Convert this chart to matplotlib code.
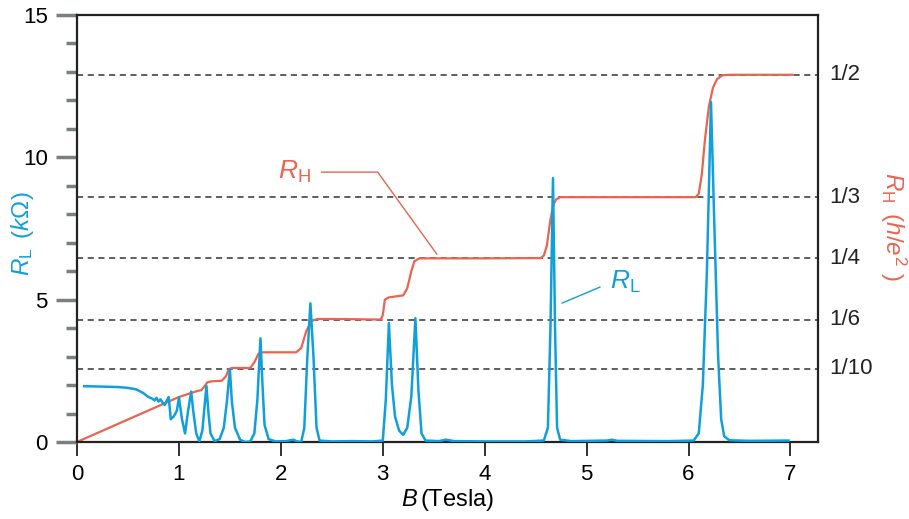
import numpy as np
import matplotlib
matplotlib.use('Agg')
import matplotlib.pyplot as plt

plt.rcParams['font.family'] = ['Liberation Sans', 'DejaVu Sans']
plt.rcParams['mathtext.fontset'] = 'custom'
plt.rcParams['mathtext.rm'] = 'Liberation Sans'
plt.rcParams['mathtext.it'] = 'Liberation Sans:italic'

# longitudinal resistance R_L (kOhm)
B_L = [0.07, 0.2, 0.4, 0.5, 0.58, 0.65, 0.7, 0.74, 0.76, 0.78, 0.8, 0.82, 0.84, 0.86, 0.88,
       0.9, 0.92, 0.95, 0.98, 1.0, 1.03, 1.06, 1.09, 1.12, 1.14, 1.17, 1.2, 1.23, 1.25, 1.27,
       1.29, 1.31, 1.35, 1.4, 1.44, 1.47, 1.5, 1.52, 1.55, 1.6, 1.65, 1.7, 1.74, 1.77, 1.8,
       1.82, 1.84, 1.88, 1.95, 2.05, 2.12, 2.16, 2.2, 2.23, 2.26, 2.29, 2.32, 2.35, 2.38, 2.5,
       2.7, 2.9, 3.0, 3.03, 3.06, 3.09, 3.12, 3.16, 3.2, 3.24, 3.28, 3.32, 3.35, 3.38, 3.42,
       3.55, 3.62, 3.7, 4.0, 4.4, 4.58, 4.62, 4.645, 4.67, 4.69, 4.71, 4.74, 4.85, 5.2, 5.25,
       5.3, 5.8, 6.05, 6.1, 6.14, 6.18, 6.22, 6.25, 6.29, 6.32, 6.35, 6.4, 6.6, 6.98]
R_L = [1.96, 1.95, 1.93, 1.90, 1.85, 1.72, 1.58, 1.52, 1.46, 1.55, 1.42, 1.50, 1.38, 1.30, 1.45,
       1.58, 0.80, 0.90, 1.10, 1.57, 0.80, 0.30, 1.10, 1.77, 1.10, 0.30, 0.02, 0.40, 1.20, 1.97,
       1.00, 0.30, 0.03, 0.10, 0.50, 1.40, 2.56, 1.40, 0.50, 0.08, 0.00, 0.02, 0.30, 1.50, 3.64,
       2.00, 0.60, 0.10, 0.02, 0.03, 0.08, 0.02, 0.00, 0.50, 3.00, 4.87, 3.00, 0.50, 0.05, 0.02,
       0.03, 0.02, 0.05, 1.50, 4.18, 2.00, 0.90, 0.40, 0.25, 0.50, 1.60, 4.35, 1.80, 0.30, 0.05,
       0.03, 0.08, 0.03, 0.02, 0.02, 0.05, 0.50, 4.00, 9.27, 4.00, 0.50, 0.08, 0.03, 0.05, 0.08,
       0.04, 0.03, 0.05, 0.30, 2.00, 6.00, 11.94, 8.00, 3.00, 0.80, 0.20, 0.06, 0.04, 0.05]

# Hall resistance R_H, drawn on the kOhm scale
B_H = [0.0, 1.0, 1.18, 1.22, 1.25, 1.28, 1.32, 1.42, 1.46, 1.49, 1.52, 1.7, 1.74, 1.78, 1.82,
       2.0, 2.15, 2.2, 2.25, 2.3, 2.36, 2.6, 2.98, 3.0, 3.02, 3.06, 3.2, 3.24, 3.28, 3.31,
       3.36, 4.0, 4.55, 4.58, 4.61, 4.64, 4.67, 4.70, 4.74, 5.5, 6.07, 6.1, 6.13, 6.16, 6.2,
       6.24, 6.28, 6.33, 6.4, 7.02]
R_H = [0.0, 1.58, 1.79, 1.82, 1.95, 2.10, 2.13, 2.15, 2.30, 2.56, 2.60, 2.60, 2.80, 3.10, 3.15,
       3.15, 3.15, 3.30, 3.90, 4.25, 4.32, 4.32, 4.30, 4.45, 5.00, 5.08, 5.15, 5.40, 6.00, 6.35,
       6.45, 6.45, 6.46, 6.55, 6.90, 7.70, 8.30, 8.52, 8.60, 8.60, 8.60, 8.72, 9.40, 10.6, 11.8,
       12.45, 12.75, 12.88, 12.9, 12.9]

# quantised plateaus h/(i e^2), h/e^2 = 25.81 kOhm
plateau_labels = ['1/2', '1/3', '1/4', '1/6', '1/10']
plateau_i = [2, 3, 4, 6, 10]
h_e2 = 25.81

blue = '#0FA0DC'
red = '#EA6450'

fig = plt.figure(figsize=(9.09, 5.19), dpi=100)
ax = fig.add_axes([0.0847, 0.1484, 0.8152, 0.8227])

for i, lab in zip(plateau_i, plateau_labels):
    y = h_e2 / i
    ax.axhline(y, color='#333333', lw=1.1, ls=(0, (4, 3)), zorder=1)
    ax.text(1.015, y, lab, transform=ax.get_yaxis_transform(), va='center', ha='left',
            fontsize=16, color='#222222')

ax.plot(B_H, R_H, color=red, lw=1.6, zorder=2)
ax.plot(B_L, R_L, color=blue, lw=1.8, zorder=3)

# annotations
ax.text(2.13, 9.48, r'$R_{\rm H}$', color=red, fontsize=19, ha='center', va='center')
ax.plot([2.40, 2.95, 3.53], [9.48, 9.48, 6.6], color=red, lw=1)
ax.text(5.38, 5.64, r'$R_{\rm L}$', color=blue, fontsize=19, ha='center', va='center')
ax.plot([5.13, 4.76], [5.44, 4.88], color=blue, lw=1)

ax.set_xlim(0, 7.27)
ax.set_ylim(0, 15)
ax.set_xticks(range(8))
ax.set_yticks([0, 5, 10, 15])
ax.set_yticks(range(16), minor=True)
ax.tick_params(axis='y', which='major', direction='out', length=15, width=2.5,
               color='#7a7f80', labelsize=16, pad=6)
ax.tick_params(axis='y', which='minor', direction='out', length=8, width=2.5,
               color='#7a7f80')
ax.tick_params(axis='x', direction='out', length=10, width=1.3, color='#222222',
               labelsize=16, pad=6)
for s in ax.spines.values():
    s.set_linewidth(1.6)
    s.set_color('#222222')

ax.set_xlabel(r'$B\,$(Tesla)', fontsize=17, labelpad=1)
fig.text(23 / 909, 1 - 234 / 519, r'$R_{\rm L}\,$ ($k\Omega$)', rotation=90, color=blue,
         fontsize=17.5, ha='center', va='center')
fig.text(0.983, 1 - 226 / 519, r'$R_{\rm H}\,$ ($h/e^2$ )', rotation=-90, color=red,
         fontsize=17.5, ha='center', va='center')

plt.savefig('out.png', dpi=100)
